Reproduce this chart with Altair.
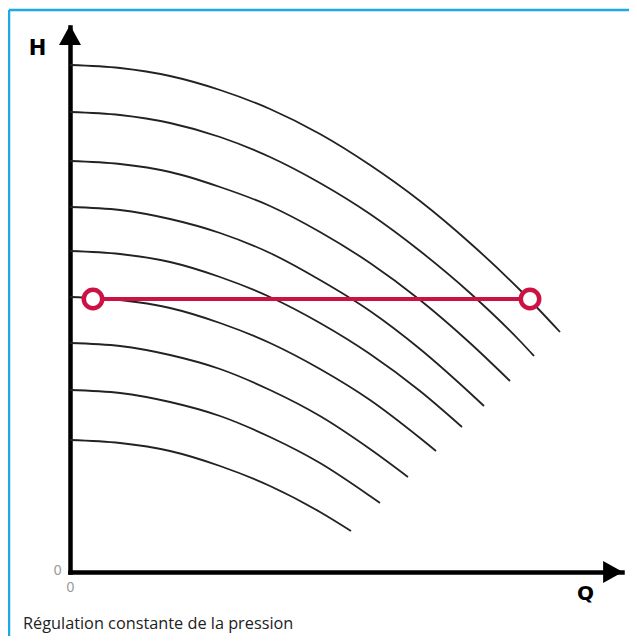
import altair as alt
import pandas as pd

# Pump curves (Q, H), arbitrary units (axis origin = 0,0)
c1_q = [0, 50, 100, 150, 200, 250, 300, 350, 400, 450, 490]
c1_h = [507, 504, 496, 482, 463, 438, 407, 371, 329, 282, 240]
c2_q = [0, 50, 100, 150, 200, 250, 300, 350, 400, 450, 464]
c2_h = [460, 457, 449, 435, 415, 389, 358, 321, 279, 231, 216]
c3_q = [0, 50, 100, 150, 200, 250, 300, 350, 400, 440]
c3_h = [411, 408, 400, 385, 366, 340, 309, 272, 229, 191]
c4_q = [0, 50, 100, 150, 200, 250, 300, 350, 400, 414]
c4_h = [365, 362, 353, 339, 319, 292, 261, 223, 179, 166]
c5_q = [0, 50, 100, 150, 200, 250, 300, 350, 392]
c5_h = [321, 318, 310, 295, 275, 249, 218, 181, 145]
c6_q = [0, 50, 100, 150, 200, 250, 300, 350, 366]
c6_h = [275, 272, 264, 249, 229, 203, 172, 134, 121]
c7_q = [0, 50, 100, 150, 200, 250, 300, 338]
c7_h = [229, 226, 217, 203, 182, 156, 123, 95]
c8_q = [0, 50, 100, 150, 200, 250, 300, 310]
c8_h = [182, 179, 170, 156, 135, 109, 76, 69]
c9_q = [0, 50, 100, 150, 200, 250, 281]
c9_h = [132, 129, 121, 106, 86, 60, 41]

# Constant-pressure setpoint line
set_q = [23, 460]
set_h = [273, 273]

caption = "Régulation constante de la pression"

curves_q = [c1_q, c2_q, c3_q, c4_q, c5_q, c6_q, c7_q, c8_q, c9_q]
curves_h = [c1_h, c2_h, c3_h, c4_h, c5_h, c6_h, c7_h, c8_h, c9_h]
rows = []
for i, (qs, hs) in enumerate(zip(curves_q, curves_h)):
    for q, h in zip(qs, hs):
        rows.append({"curve": i + 1, "Q": q, "H": h})
df_curves = pd.DataFrame(rows)
df_set = pd.DataFrame({"Q": set_q, "H": set_h})
one = pd.DataFrame({"k": [0]})

xscale = alt.Scale(domain=[0, 552], nice=False, zero=True)
yscale = alt.Scale(domain=[0, 545], nice=False, zero=True)

xaxis = alt.Axis(values=[0], ticks=False, tickSize=0, grid=False,
                 domainWidth=4.5, domainColor="black", domainCap="square",
                 labelColor="#9a9a9a", labelFont="Liberation Sans", labelFontSize=14,
                 labelPadding=8, labelFlush=False,
                 title="Q", titleX=515, titleY=21, titleAlign="center",
                 titleBaseline="middle", titleFont="DejaVu Sans",
                 titleFontWeight="bold", titleFontSize=20, titleColor="black")
yaxis = alt.Axis(values=[0], ticks=False, tickSize=0, grid=False,
                 domainWidth=4.5, domainColor="black", domainCap="square",
                 labelColor="#9a9a9a", labelFont="Liberation Sans", labelFontSize=14,
                 labelPadding=9, labelOffset=-2,
                 title="H", titleAngle=0, titleX=-33, titleY=21, titleAlign="center",
                 titleBaseline="middle", titleFont="DejaVu Sans",
                 titleFontWeight="bold", titleFontSize=21, titleColor="black")

curves = alt.Chart(df_curves).mark_line(
    color="#222222", strokeWidth=1.8, interpolate="monotone"
).encode(
    x=alt.X("Q:Q", scale=xscale, axis=xaxis),
    y=alt.Y("H:Q", scale=yscale, axis=yaxis),
    detail="curve:N",
)

setline = alt.Chart(df_set).mark_line(color="#cc1144", strokeWidth=4).encode(
    x=alt.X("Q:Q", scale=xscale), y=alt.Y("H:Q", scale=yscale)
)
setpts = alt.Chart(df_set).mark_point(
    shape="circle", size=340, strokeWidth=4.5, color="#cc1144", fill="white",
    filled=False, opacity=1, fillOpacity=1
).encode(x=alt.X("Q:Q", scale=xscale), y=alt.Y("H:Q", scale=yscale))

arrow_up = alt.Chart(one).mark_point(
    shape="M0,-0.9L1,0.9L-1,0.9Z", size=484, filled=True, color="black", opacity=1
).encode(x=alt.value(0), y=alt.value(8))
arrow_right = alt.Chart(one).mark_point(
    shape="M0.9,0L-0.9,1L-0.9,-1Z", size=484, filled=True, color="black", opacity=1
).encode(x=alt.value(543), y=alt.value(545))

border_top = alt.Chart(one).mark_rule(color="#1ea8e6", strokeWidth=2.5).encode(
    x=alt.value(-61), x2=alt.value(580), y=alt.value(-17)
)
border_left = alt.Chart(one).mark_rule(color="#1ea8e6", strokeWidth=2.5).encode(
    x=alt.value(-61), y=alt.value(-17), y2=alt.value(640)
)

cap = alt.Chart(one).mark_text(
    text=caption, align="left", baseline="alphabetic",
    font="Open Sans", fontSize=16.3, color="#222222"
).encode(x=alt.value(-47), y=alt.value(602))

chart = alt.layer(
    border_top, border_left, curves, setline, setpts, arrow_up, arrow_right, cap
).properties(
    width=552, height=545,
    padding={"left": 62, "top": 19, "right": 7, "bottom": 64},
    autosize=alt.AutoSizeParams(type="none"),
    background="white",
).configure_view(stroke=None)

chart.save("out.html", embed_options={"renderer": "svg", "actions": False})
